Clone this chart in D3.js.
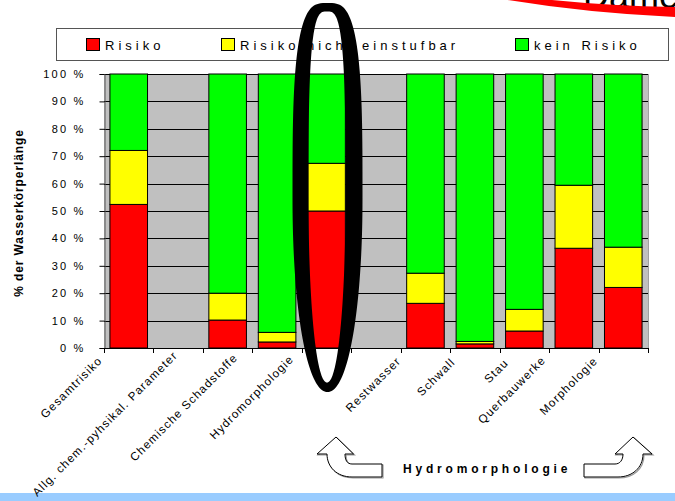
<!DOCTYPE html>
<html>
<head>
<meta charset="utf-8">
<script src="https://cdn.jsdelivr.net/npm/d3@7"></script>
<style>
  html, body { margin: 0; padding: 0; background: #ffffff; }
  svg { display: block; font-family: Arial, "Liberation Sans", sans-serif; }
</style>
</head>
<body>
<svg id="chart" width="675" height="501"></svg>
<script>
// Category labels (empty entries are spacer columns)
const categoryLabels = [
  "Gesamtrisiko", "", "Allg. chem.-pyhsikal. Parameter", "Chemische Schadstoffe",
  "Hydromorphologie", "", "Restwasser", "Schwall", "Stau", "Querbauwerke", "Morphologie"
];
// Share of water body length (%) per risk class
const risiko          = [52.4, null, 10.2, 2.2, 50.0, null, 16.3, 1.5, 6.2, 36.4, 22.1];
const nichtEinstufbar = [19.7, null,  9.8, 3.5, 17.4, null, 11.0, 0.9, 7.9, 23.0, 14.7];
const keinRisiko      = [27.9, null, 80.0, 94.3, 32.6, null, 72.7, 97.6, 85.9, 40.6, 63.2];

const seriesNames  = ["Risiko", "Risiko nicht einstufbar", "kein Risiko"];
const seriesColors = ["#ff0000", "#ffff00", "#00ff00"];
const yTicks = [0, 10, 20, 30, 40, 50, 60, 70, 80, 90, 100];
const axisTitle = "% der Wasserkörperlänge";
const groupTitle = "Hydromorphologie";

const svg = d3.select("#chart");
const plot = { left: 104, right: 648, top: 74, bottom: 348 };

const rows = categoryLabels.map((label, i) => ({
  idx: i, label,
  r: risiko[i], n: nichtEinstufbar[i], k: keinRisiko[i]
}));

const x = d3.scaleBand()
  .domain(rows.map(d => d.idx))
  .range([plot.left, plot.right])
  .paddingInner(0.24)
  .paddingOuter(0.12);
const step = x.step();

const y = d3.scaleLinear().domain([0, 100]).range([plot.bottom, plot.top]);

// bottom band of the slide
svg.append("rect")
  .attr("x", 0).attr("y", 493).attr("width", 675).attr("height", 8)
  .attr("fill", "#99ccff");

// plot background
svg.append("rect")
  .attr("x", plot.left).attr("y", plot.top)
  .attr("width", plot.right - plot.left).attr("height", plot.bottom - plot.top)
  .attr("fill", "#c0c0c0");

// horizontal gridlines
svg.append("g")
  .selectAll("line")
  .data(yTicks.filter(t => t > 0))
  .join("line")
  .attr("x1", plot.left).attr("x2", plot.right)
  .attr("y1", d => Math.round(y(d)) + 0.5).attr("y2", d => Math.round(y(d)) + 0.5)
  .attr("stroke", "#000").attr("stroke-width", 1);

// right border of plot area
svg.append("line")
  .attr("x1", plot.right + 0.5).attr("x2", plot.right + 0.5)
  .attr("y1", plot.top).attr("y2", plot.bottom)
  .attr("stroke", "#a0a0a0");

// stacked bars
const stack = d3.stack().keys(["r", "n", "k"]);
const stacked = stack(rows.filter(d => d.r !== null));
svg.append("g")
  .selectAll("g")
  .data(stacked)
  .join("g")
  .attr("fill", (d, i) => seriesColors[i])
  .selectAll("rect")
  .data(d => d)
  .join("rect")
  .attr("x", d => x(d.data.idx))
  .attr("width", x.bandwidth())
  .attr("y", d => y(d[1]))
  .attr("height", d => y(d[0]) - y(d[1]))
  .attr("stroke", "#000")
  .attr("stroke-width", 1);

// y axis
const yAxis = d3.axisLeft(y)
  .tickValues(yTicks)
  .tickFormat(d => d + " %")
  .tickSize(5)
  .tickPadding(14);
const gy = svg.append("g")
  .attr("transform", `translate(${plot.left + 0.5},0)`)
  .call(yAxis);
gy.select(".domain").attr("stroke", "#555");
gy.selectAll(".tick line").attr("stroke", "#000");
gy.selectAll(".tick text")
  .attr("font-size", 11)
  .attr("letter-spacing", "2.2px")
  .attr("fill", "#000")
  .attr("font-family", "Arial, 'Liberation Sans', sans-serif");

// x axis baseline and tick marks between columns
svg.append("line")
  .attr("x1", plot.left).attr("x2", plot.right)
  .attr("y1", plot.bottom + 0.5).attr("y2", plot.bottom + 0.5)
  .attr("stroke", "#000");
svg.append("g")
  .selectAll("line")
  .data(d3.range(categoryLabels.length + 1))
  .join("line")
  .attr("x1", i => Math.round(plot.left + i * step) + 0.5)
  .attr("x2", i => Math.round(plot.left + i * step) + 0.5)
  .attr("y1", plot.bottom).attr("y2", plot.bottom + 5)
  .attr("stroke", "#000");

// rotated category labels: longer labels are pulled further up-left of their column
svg.append("g")
  .selectAll("text")
  .data(rows.filter(d => d.label))
  .join("text")
  .attr("text-anchor", "end")
  .attr("font-size", 11.6)
  .attr("letter-spacing", "1.15px")
  .attr("fill", "#000")
  .text(d => d.label)
  .attr("transform", function (d) {
    const len = this.getComputedTextLength();
    const ax = x(d.idx) + x.bandwidth() / 2 - 9.5 - 0.2 * len;
    const ay = plot.bottom + 17 - 0.045 * len;
    return `translate(${ax},${ay}) rotate(-45)`;
  });

// y axis title
svg.append("text")
  .attr("transform", `translate(23,${(plot.top + plot.bottom) / 2 + 2}) rotate(-90)`)
  .attr("text-anchor", "middle")
  .attr("font-size", 12)
  .attr("font-weight", "bold")
  .attr("letter-spacing", "0.9px")
  .text(axisTitle);

// legend
const legend = svg.append("g");
legend.append("rect")
  .attr("x", 56.5).attr("y", 28.5).attr("width", 612).attr("height", 32)
  .attr("fill", "#fff").attr("stroke", "#555");
const legendX = [86, 221, 515];
const items = legend.selectAll("g")
  .data(seriesNames)
  .join("g")
  .attr("transform", (d, i) => `translate(${legendX[i]},0)`);
items.append("rect")
  .attr("x", 0.5).attr("y", 38.5).attr("width", 13).attr("height", 12)
  .attr("fill", (d, i) => seriesColors[i]).attr("stroke", "#000");
items.append("text")
  .attr("x", 19).attr("y", 50)
  .attr("font-size", 13)
  .attr("letter-spacing", "4px")
  .text(d => d);

// title fragment and red swoosh at the top right
svg.append("text")
  .attr("x", 583).attr("y", 8)
  .attr("font-size", 36)
  .text("Dame");
svg.append("path")
  .attr("d", "M508,0 L552,0 Q612,6 675,7 L675,17 Q588,13 508,0 Z")
  .attr("fill", "#ff0000");

// hand-drawn highlight ring around the Hydromorphologie column:
// fuller at the top, narrower at the bottom, thicker on the sides
function ringOutline(cx, cy, rx, ry, nTop, nBottom) {
  const pts = d3.range(0, 361, 2).map(deg => {
    const t = deg * Math.PI / 180;
    const c = Math.cos(t), s = Math.sin(t);
    const n = s < 0 ? nTop : nBottom;
    return [cx + rx * Math.sign(c) * Math.pow(Math.abs(c), 2 / n),
            cy + ry * Math.sign(s) * Math.pow(Math.abs(s), 2 / n)];
  });
  return d3.line()(pts) + "Z";
}
svg.append("path")
  .attr("d", ringOutline(327.5, 197.5, 35, 194.5, 3.3, 2.1) + ringOutline(327, 197, 18.5, 185.5, 3.3, 2.1))
  .attr("fill", "#000")
  .attr("fill-rule", "evenodd");

// bracket arrows with the group title
const arrows = [
  "M336,437 L353.5,454 L345,454 C345,460 347,464 352,464 L382,464 L382,477 L352,477 C337,477 327,467 327,454 L317,454 Z",
  "M633,437 L652,454 L643,454 C643,468 632,477 618,477 L584,477 L584,464 L615,464 C620,464 623,460 623,454 L615,454 Z"
];
svg.append("g")
  .selectAll("path.shadow")
  .data(arrows)
  .join("path")
  .attr("transform", "translate(1,1)")
  .attr("d", d => d)
  .attr("fill", "none")
  .attr("stroke", "#999")
  .attr("stroke-width", 1.2);
svg.append("g")
  .selectAll("path.arrow")
  .data(arrows)
  .join("path")
  .attr("d", d => d)
  .attr("fill", "#fff")
  .attr("stroke", "#000")
  .attr("stroke-width", 1);
svg.append("text")
  .attr("x", 403).attr("y", 473)
  .attr("font-size", 12)
  .attr("font-weight", "bold")
  .attr("letter-spacing", "3.8px")
  .text(groupTitle);
</script>
</body>
</html>
